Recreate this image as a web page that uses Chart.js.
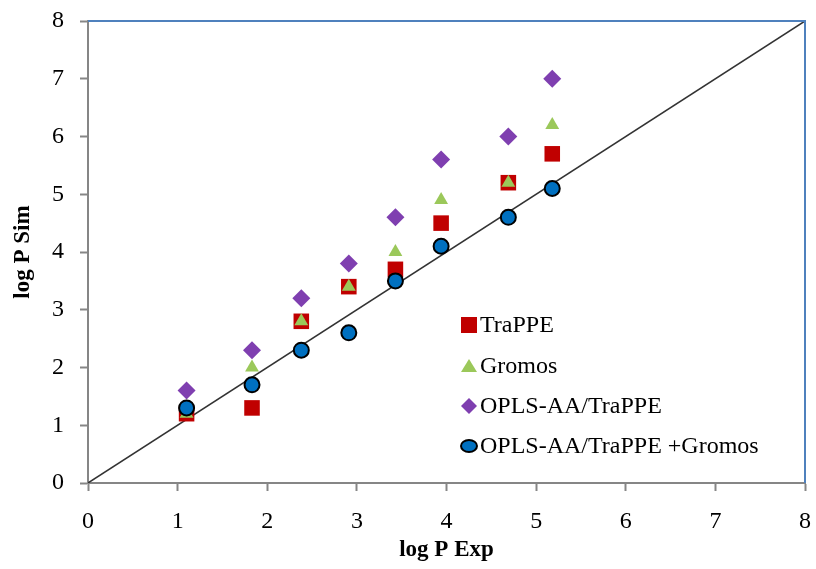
<!DOCTYPE html>
<html>
<head>
<meta charset="utf-8">
<script src="https://cdn.jsdelivr.net/npm/chart.js@4"></script>
<style>
  html, body { margin: 0; padding: 0; background: #fff; }
  #wrap { width: 816px; height: 569px; }
</style>
</head>
<body>
<div id="wrap"><canvas id="chart"></canvas></div>
<script>
// experimental log P (x) shared by all series
const logPExp = [1.1, 1.83, 2.38, 2.91, 3.43, 3.94, 4.69, 5.18];
const trappe = [1.2, 1.3, 2.8, 3.4, 3.7, 4.5, 5.2, 5.7];
const gromos = [1.2, 2.0, 2.8, 3.4, 4.0, 4.9, 5.2, 6.2];
const oplsTrappe = [1.6, 2.3, 3.2, 3.8, 4.6, 5.6, 6.0, 7.0];
const oplsTrappeGromos = [1.3, 1.7, 2.3, 2.6, 3.5, 4.1, 4.6, 5.1];
const seriesNames = ["TraPPE", "Gromos", "OPLS-AA/TraPPE", "OPLS-AA/TraPPE +Gromos"];
const axisTicks = [0, 1, 2, 3, 4, 5, 6, 7, 8];
const diagonal = [0, 8];

function pts(ys) {
  return logPExp.map((x, i) => ({ x: x, y: ys[i] }));
}

const serif = "'Liberation Serif', 'Times New Roman', serif";
const grey = "#868686";

// top + right frame in blue, like the original
const framePlugin = {
  id: "frame",
  afterDraw(chart) {
    const { ctx, chartArea: a } = chart;
    ctx.save();
    ctx.strokeStyle = "#4f81bd";
    ctx.lineWidth = 2;
    ctx.beginPath();
    ctx.moveTo(a.left, a.top);
    ctx.lineTo(a.right, a.top);
    ctx.lineTo(a.right, a.bottom);
    ctx.stroke();
    ctx.restore();
  }
};

// legend sits inside the plot area
const legendPlugin = {
  id: "innerLegend",
  afterDraw(chart) {
    const ctx = chart.ctx;
    const mx = 469, tx = 480;
    const rows = [325, 366, 406, 446];
    ctx.save();
    ctx.font = "24px " + serif;
    ctx.textBaseline = "middle";
    ctx.fillStyle = "#000";
    rows.forEach((y, i) => {
      ctx.save();
      if (i === 0) {
        ctx.fillStyle = "#c00000";
        ctx.fillRect(mx - 8, y - 8, 16, 16);
      } else if (i === 1) {
        ctx.fillStyle = "#9bc85a";
        ctx.beginPath();
        ctx.moveTo(mx, y - 7);
        ctx.lineTo(mx + 8, y + 6);
        ctx.lineTo(mx - 8, y + 6);
        ctx.closePath();
        ctx.fill();
      } else if (i === 2) {
        ctx.fillStyle = "#7f3fb0";
        ctx.beginPath();
        ctx.moveTo(mx, y - 8);
        ctx.lineTo(mx + 8, y);
        ctx.lineTo(mx, y + 8);
        ctx.lineTo(mx - 8, y);
        ctx.closePath();
        ctx.fill();
      } else {
        ctx.fillStyle = "#0070c0";
        ctx.strokeStyle = "#000";
        ctx.lineWidth = 2;
        ctx.beginPath();
        ctx.ellipse(mx, y, 8, 6, 0, 0, Math.PI * 2);
        ctx.fill();
        ctx.stroke();
      }
      ctx.restore();
      ctx.fillText(seriesNames[i], tx, y + 1);
    });
    ctx.restore();
  }
};

const axisCommon = {
  type: "linear",
  min: 0,
  max: 8,
  afterBuildTicks(scale) {
    scale.ticks = axisTicks.map(v => ({ value: v }));
  },
  border: { display: true, color: grey, width: 2 },
  grid: {
    display: true,
    drawOnChartArea: false,
    drawTicks: true,
    tickLength: 8,
    tickColor: grey,
    tickWidth: 2
  }
};

new Chart(document.getElementById("chart"), {
  type: "scatter",
  data: {
    datasets: [
      {
        label: "y = x",
        data: diagonal.map(v => ({ x: v, y: v })),
        showLine: true,
        borderColor: "#333",
        borderWidth: 1.5,
        pointRadius: 0,
        order: 5
      },
      {
        label: seriesNames[0],
        data: pts(trappe),
        pointStyle: "rect",
        pointRadius: 11,
        backgroundColor: "#c00000",
        borderColor: "#c00000",
        borderWidth: 0,
        order: 4
      },
      {
        label: seriesNames[1],
        data: pts(gromos),
        pointStyle: "triangle",
        pointRadius: 8,
        backgroundColor: "#9bc85a",
        borderColor: "#9bc85a",
        borderWidth: 0,
        order: 3
      },
      {
        label: seriesNames[2],
        data: pts(oplsTrappe),
        pointStyle: "rectRot",
        pointRadius: 9,
        backgroundColor: "#7f3fb0",
        borderColor: "#7f3fb0",
        borderWidth: 0,
        order: 2
      },
      {
        label: seriesNames[3],
        data: pts(oplsTrappeGromos),
        pointStyle: "circle",
        pointRadius: 7.5,
        backgroundColor: "#0070c0",
        borderColor: "#000",
        borderWidth: 2,
        order: 1
      }
    ]
  },
  options: {
    responsive: true,
    maintainAspectRatio: false,
    animation: false,
    layout: { padding: { top: 21, right: 6, left: 0, bottom: 0 } },
    plugins: {
      legend: { display: false },
      tooltip: { enabled: false }
    },
    scales: {
      x: Object.assign({}, axisCommon, {
        position: "bottom",
        afterFit(s) {
          s.height = 86;
          s.paddingLeft = 0;
          s.paddingRight = 0;
        },
        ticks: { color: "#000", padding: 16, font: { family: serif, size: 24 } },
        title: {
          display: true,
          text: "log P Exp",
          color: "#000",
          font: { family: serif, size: 23, weight: "bold" },
          padding: { top: 0, bottom: 5 }
        }
      }),
      y: Object.assign({}, axisCommon, {
        position: "left",
        afterFit(s) {
          s.width = 88;
          s.paddingTop = 0;
          s.paddingBottom = 0;
        },
        ticks: { color: "#000", padding: 16, font: { family: serif, size: 24 } },
        title: {
          display: true,
          text: "log P Sim",
          color: "#000",
          font: { family: serif, size: 23, weight: "bold" },
          padding: { top: 9, bottom: 0 }
        }
      })
    }
  },
  plugins: [framePlugin, legendPlugin]
});
</script>
</body>
</html>
